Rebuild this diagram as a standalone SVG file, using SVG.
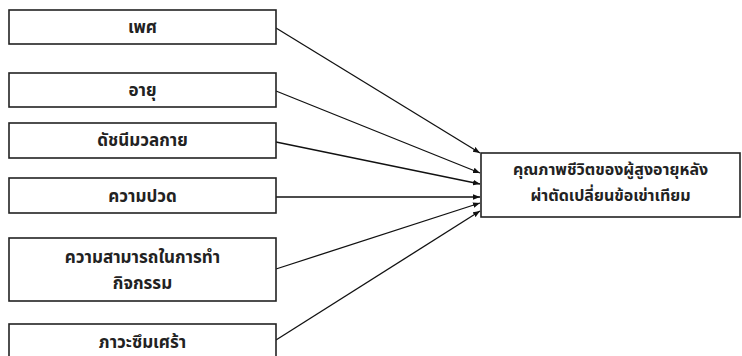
<svg xmlns="http://www.w3.org/2000/svg" width="742" height="356" viewBox="0 0 742 356">
<style>
.box{fill:#fff;stroke:#222;stroke-width:1.6}
.t{font-family:"Noto Sans Thai","Noto Sans","DejaVu Sans",sans-serif;font-size:17px;font-weight:bold;fill:#222;text-anchor:middle}
.tt{font-size:16px}
.c{stroke:#111;stroke-width:1.3;fill:none;marker-end:url(#ah)}
</style>
<defs>
<marker id="ah" viewBox="0 0 10 10" refX="10" refY="5" markerWidth="7" markerHeight="7" markerUnits="userSpaceOnUse" orient="auto">
<path d="M0,1 L10,5 L0,9 z" fill="#111"/>
</marker>
</defs>
<rect width="742" height="356" fill="#fff"/>
<g id="connectors">
<line class="c" x1="276" y1="28" x2="480" y2="153"/>
<line class="c" x1="276" y1="91" x2="480" y2="173"/>
<line class="c" x1="276" y1="142" x2="480" y2="184"/>
<line class="c" x1="276" y1="197" x2="480" y2="197"/>
<line class="c" x1="276" y1="269" x2="480" y2="203"/>
<line class="c" x1="276" y1="340" x2="480" y2="211"/>
</g>
<g id="n1"><rect class="box" x="9" y="10" width="267" height="34"/><text class="t" x="142.5" y="33">เพศ</text></g>
<g id="n2"><rect class="box" x="9" y="73" width="267" height="34"/><text class="t" x="142.5" y="96">อายุ</text></g>
<g id="n3"><rect class="box" x="9" y="123" width="267" height="35"/><text class="t" x="142.5" y="146">ดัชนีมวลกาย</text></g>
<g id="n4"><rect class="box" x="9" y="178" width="267" height="35"/><text class="t" x="142.5" y="202">ความปวด</text></g>
<g id="n5"><rect class="box" x="9" y="238" width="267" height="63"/><text class="t" x="142.5" y="263">ความสามารถในการทำ</text><text class="t" x="142.5" y="289">กิจกรรม</text></g>
<g id="n6"><rect class="box" x="9" y="324" width="267" height="40"/><text class="t" x="142.5" y="348">ภาวะซึมเศร้า</text></g>
<g id="target"><rect class="box" x="481" y="153" width="259" height="64"/><text class="t tt" x="610.5" y="175">คุณภาพชีวิตของผู้สูงอายุหลัง</text><text class="t tt" x="610.5" y="201">ผ่าตัดเปลี่ยนข้อเข่าเทียม</text></g>
</svg>
